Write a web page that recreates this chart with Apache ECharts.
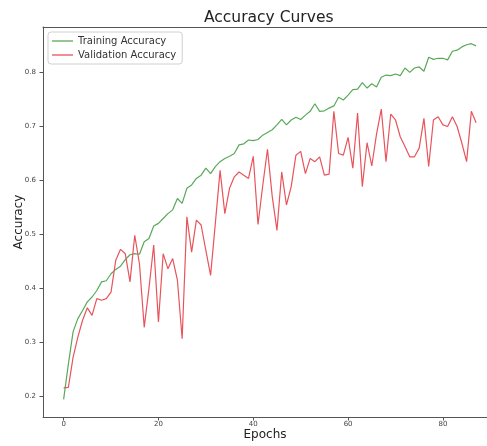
<!DOCTYPE html>
<html>
<head>
<meta charset="utf-8">
<script src="https://cdn.jsdelivr.net/npm/echarts@6/dist/echarts.min.js"></script>
<style>html,body{margin:0;padding:0;background:#fff}#c{width:487px;height:446px}</style>
</head>
<body>
<div id="c"></div>
<script>
const epochs = Array.from({length: 88}, (_, i) => i);
const trainingAccuracy = [
 0.195,0.26,0.32,0.344,0.359,0.375,0.384,0.396,0.412,0.414,
 0.427,0.435,0.441,0.453,0.462,0.464,0.463,0.486,0.492,0.515,
 0.52,0.529,0.538,0.545,0.566,0.557,0.585,0.591,0.603,0.609,
 0.622,0.612,0.625,0.634,0.64,0.644,0.649,0.665,0.667,0.674,
 0.673,0.675,0.683,0.688,0.693,0.702,0.712,0.702,0.711,0.716,
 0.712,0.72,0.727,0.741,0.727,0.728,0.733,0.737,0.753,0.748,
 0.757,0.767,0.768,0.78,0.77,0.778,0.772,0.79,0.794,0.793,
 0.796,0.793,0.807,0.799,0.807,0.809,0.801,0.827,0.823,0.825,
 0.825,0.822,0.838,0.84,0.846,0.85,0.852,0.848
];
const validationAccuracy = [
 0.216,0.217,0.273,0.31,0.341,0.364,0.35,0.381,0.378,0.381,
 0.393,0.452,0.472,0.464,0.412,0.498,0.445,0.328,0.40,0.48,
 0.338,0.464,0.436,0.455,0.415,0.307,0.532,0.467,0.526,0.517,
 0.47,0.424,0.52,0.618,0.538,0.585,0.606,0.615,0.609,0.603,
 0.644,0.518,0.59,0.657,0.57,0.507,0.615,0.554,0.588,0.646,
 0.653,0.612,0.64,0.634,0.643,0.609,0.611,0.727,0.649,0.646,
 0.679,0.622,0.724,0.588,0.669,0.626,0.685,0.731,0.634,0.722,
 0.711,0.68,0.662,0.643,0.643,0.659,0.714,0.625,0.711,0.717,
 0.702,0.699,0.717,0.699,0.668,0.634,0.727,0.706
];
const xTicks = [0, 20, 40, 60, 80];
const yTicks = [0.2, 0.3, 0.4, 0.5, 0.6, 0.7, 0.8];

const chart = echarts.init(document.getElementById('c'), null, {renderer: 'canvas'});
const font = 'DejaVu Sans';
const spine = {show: true, onZero: false, lineStyle: {color: '#555', width: 1}};
chart.setOption({
  animation: false,
  backgroundColor: '#fff',
  textStyle: {fontFamily: font},
  title: {
    text: 'Accuracy Curves',
    left: 204, top: 10, padding: 0,
    textStyle: {fontFamily: font, fontSize: 15.5, fontWeight: 'normal', color: '#222'}
  },
  legend: {
    orient: 'vertical',
    left: 48, top: 32,
    padding: [2, 6, 2, 4],
    icon: 'rect',
    itemWidth: 21, itemHeight: 1.3, itemGap: 0,
    backgroundColor: '#fff',
    borderColor: '#d0d0d0', borderWidth: 1, borderRadius: 3,
    textStyle: {fontFamily: font, fontSize: 10, lineHeight: 14, color: '#333'},
    data: ['Training Accuracy', 'Validation Accuracy']
  },
  grid: {left: 43, top: 27, bottom: 29, right: 0, show: false,
         containLabel: false, outerBoundsMode: 'none'},
  xAxis: [{
    type: 'value', min: -4.35, max: 89.3,
    name: 'Epochs', nameLocation: 'middle', nameGap: 12, nameMoveOverlap: false,
    nameTextStyle: {fontFamily: font, fontSize: 12, color: '#222'},
    axisLine: spine,
    axisTick: {show: true, customValues: xTicks, length: 3.5, lineStyle: {color: '#555'}},
    axisLabel: {customValues: xTicks, fontSize: 7, color: '#444', margin: 4, fontFamily: font},
    splitLine: {show: false}
  }, {
    type: 'value', min: -4.35, max: 89.3, position: 'top',
    axisLine: spine, axisTick: {show: false}, axisLabel: {show: false}, splitLine: {show: false}
  }],
  yAxis: {
    type: 'value', min: 0.1623, max: 0.8828,
    name: 'Accuracy', nameLocation: 'middle', nameGap: 18, nameRotate: 90, nameMoveOverlap: false,
    nameTextStyle: {fontFamily: font, fontSize: 12, color: '#222'},
    axisLine: spine,
    axisTick: {show: true, customValues: yTicks, length: 3.5, lineStyle: {color: '#555'}},
    axisLabel: {customValues: yTicks, fontSize: 7, color: '#444', margin: 7, fontFamily: font,
      formatter: v => v.toFixed(1)},
    splitLine: {show: false}
  },
  series: [
    {
      name: 'Training Accuracy', type: 'line', symbol: 'none', showSymbol: false,
      data: epochs.map((e, i) => [e, trainingAccuracy[i]]),
      lineStyle: {color: '#5aa95a', width: 1.2}, itemStyle: {color: '#5aa95a'}
    },
    {
      name: 'Validation Accuracy', type: 'line', symbol: 'none', showSymbol: false,
      data: epochs.map((e, i) => [e, validationAccuracy[i]]),
      lineStyle: {color: '#e8545c', width: 1.2}, itemStyle: {color: '#e8545c'}
    }
  ]
});
</script>
</body>
</html>
